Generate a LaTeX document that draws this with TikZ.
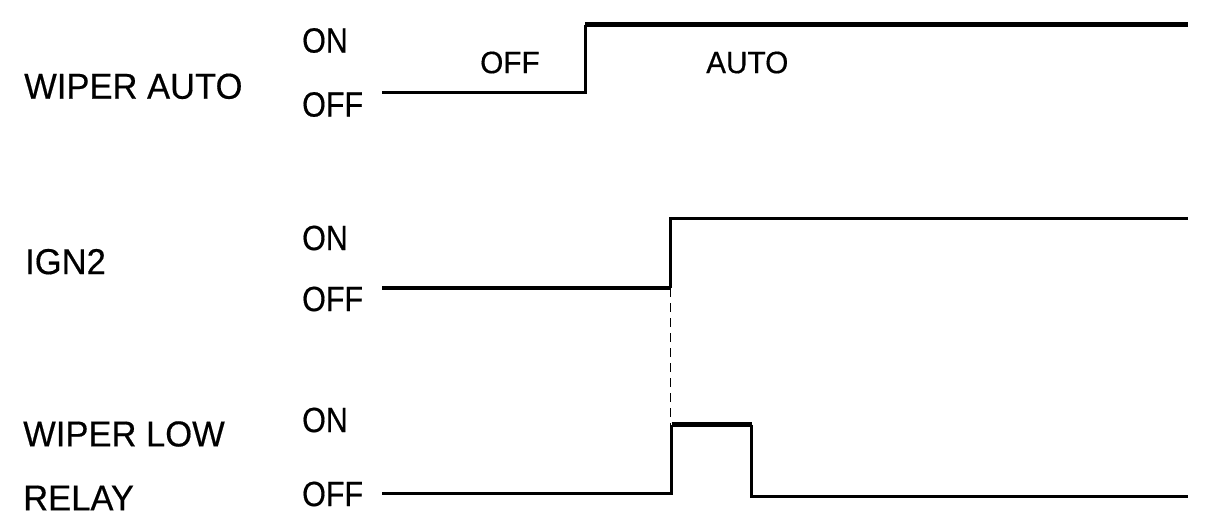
\documentclass[tikz,border=0pt]{standalone}
\usepackage{fontspec}
\setmainfont{Liberation Sans}
\newfontfamily\lblfont{Liberation Sans}[FakeStretch=0.96,FakeBold=0.4]
\newfontfamily\lvlfont{Liberation Sans}[FakeStretch=0.87,FakeBold=0.4]
\newfontfamily\stfont{Liberation Sans}[FakeStretch=0.96,FakeBold=0.4]
\begin{document}
\begin{tikzpicture}[x=1pt,y=-1pt,
  sig/.style={line width=3pt,line cap=butt,line join=miter},
  sigthick/.style={line width=4.3pt},
  lbl/.style={anchor=west,inner sep=0pt,font=\lblfont\fontsize{36}{38}\selectfont},
  lvl/.style={anchor=west,inner sep=0pt,font=\lvlfont\fontsize{35}{37}\selectfont},
  st/.style={anchor=west,inner sep=0pt,font=\stfont\fontsize{31}{33}\selectfont},
  dashline/.style={line width=1.5pt,dash pattern=on 9pt off 6pt}]
\useasboundingbox (0,0) rectangle (1216,530);
% labels
\node[lbl] (wa) at (24,86.3) {WIPER AUTO};
\node[lbl] (ign) at (25,261.7) {IGN2};
\node[lbl] (wl) at (23,434) {WIPER LOW};
\node[lbl] (rel) at (23,498) {RELAY};
% level labels
\node[lvl] (on1) at (302,40.5) {ON};
\node[lvl] (off1) at (302,104.5) {OFF};
\node[lvl] (on2) at (302,238) {ON};
\node[lvl] (off2) at (302,299) {OFF};
\node[lvl] (on3) at (302,420) {ON};
\node[lvl] (off3) at (302,494) {OFF};
% state labels
\node[st] (soff) at (480,62.5) {OFF};
\node[st] (sauto) at (706,62.5) {AUTO};
% waveform 1
\coordinate (a0) at (382,92.5);
\coordinate (a1) at (585,92.5);
\coordinate (a2) at (585,24.5);
\coordinate (a3) at (1188,24.5);
\draw[sig] (a0) -- (a1) -- (a2);
\draw[sig,sigthick] (a2) -- (a3);
% waveform 2
\coordinate (b0) at (382,288);
\coordinate (b1) at (670.5,288);
\coordinate (b2) at (670.5,218);
\coordinate (b3) at (1188,218);
\draw[sig,sigthick] (b0) -- (b1);
\draw[sig] (b1) -- (b2) -- (b3);
% dashed
\coordinate (d1) at (670.5,424.5);
\draw[dashline] (b1) -- (d1);
% waveform 3
\coordinate (c0) at (382,493);
\coordinate (c1) at (671.7,493);
\coordinate (c2) at (671.7,424.5);
\coordinate (c3) at (751.5,424.5);
\coordinate (c4) at (751.5,496);
\coordinate (c5) at (1188,496);
\draw[sig] (c0) -- (c1) -- (c2);
\draw[sig,sigthick] (c2) -- (c3);
\draw[sig] (c3) -- (c4) -- (c5);
\end{tikzpicture}
\end{document}
